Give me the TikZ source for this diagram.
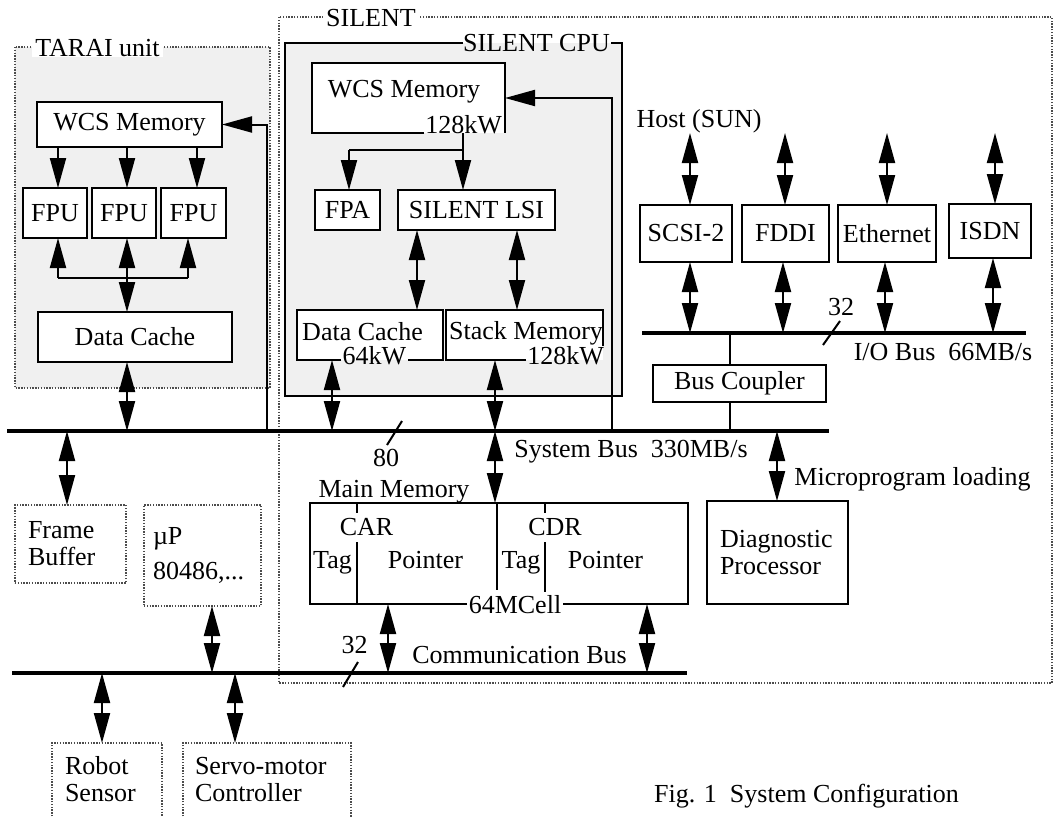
\documentclass[tikz,border=0pt]{standalone}
\usepackage{fontspec}
\setmainfont{Liberation Serif}
\usetikzlibrary{arrows.meta}
\newcommand\bigfont{\fontsize{26}{28}\selectfont}
\newcommand\twofont{\fontsize{26}{27}\selectfont}
\tikzset{
  box/.style={draw, line width=2.5pt, fill=white, inner sep=0pt, outer sep=0pt, font=\bigfont},
  area/.style={draw=none, fill=white, inner sep=0pt, outer sep=0pt},
  bord/.style={line width=2.5pt},
  dotb/.style={draw=black!70, line width=1.6pt, dash pattern=on 1.4pt off 1.4pt},
  dbox/.style={dotb, fill=white, inner sep=0pt, outer sep=0pt, font=\twofont, align=left},
  dtext/.style={area, font=\twofont, align=left},
  conn/.style={line width=2pt},
  arr/.style={conn, -{Triangle[length=30pt,width=16pt]}},
  darr/.style={conn, {Triangle[length=30pt,width=16pt]}-{Triangle[length=30pt,width=16pt]}},
  bus/.style={line width=4.5pt},
  lbl/.style={inner sep=0pt, outer sep=0pt, font=\bigfont},
}
\begin{document}
\begin{tikzpicture}[x=1pt,y=-1pt]
\useasboundingbox (0,0) rectangle (1054,816);
% ---------- regions
\path[fill=black!6] (15,47) rectangle (270,388);
\draw[dotb] (15,47) rectangle (270,388);
\node[lbl, fill=white, inner xsep=3pt] (tarai) at (97.5,48) {TARAI unit};
\draw[dotb] (279,17) rectangle (1052,683);
\node[lbl, fill=white, inner xsep=3pt] (silent) at (371,18) {SILENT};
\path[fill=black!6] (285,43) rectangle (622,396);
\draw[bord] (463,43) -- (285,43) -- (285,396) -- (622,396) -- (622,43) -- (611,43);
\node[lbl] (cpu) at (536.5,43) {SILENT CPU};

% ---------- TARAI unit
\node[box, minimum width=185pt, minimum height=45pt] (twcs) at (129.5,124.5) {WCS Memory};
\node[box, minimum width=64pt, minimum height=50pt] (fpu1) at (55,213) {FPU};
\node[box, minimum width=64pt, minimum height=50pt] (fpu2) at (124,213) {FPU};
\node[box, minimum width=65pt, minimum height=50pt] (fpu3) at (193.5,213) {FPU};
\node[box, minimum width=194pt, minimum height=50pt] (tdc) at (135,337) {Data Cache};
\draw[arr] (twcs.south -| 58,0) -- (fpu1.north -| 58,0);
\draw[arr] (twcs.south -| 127,0) -- (fpu2.north -| 127,0);
\draw[arr] (twcs.south -| 197,0) -- (fpu3.north -| 197,0);
\coordinate (tj1) at (58,278);
\coordinate (tj3) at (188,278);
\draw[conn] (tj1) -- (tj3);
\draw[arr] (tj1) -- (fpu1.south -| tj1);
\draw[arr] (tj3) -- (fpu3.south -| tj3);
\draw[darr] (fpu2.south -| 127,0) -- (tdc.north -| 127,0);

% ---------- system bus
\coordinate (sbl) at (7,431);
\coordinate (sbr) at (829,431);
\draw[bus] (sbl) -- (sbr);
\draw[darr] (tdc.south -| 127,0) -- (127,431);
\coordinate (tload) at (267,431);
\draw[arr] (tload) |- (twcs.east);
\node[lbl, anchor=base] (sysbus) at (631,457) {System Bus\ \ 330MB/s};
\draw[conn] (387,445) -- (402,421);
\node[lbl, anchor=base] (w80) at (386,466) {80};

% ---------- SILENT CPU
\node[area, minimum width=193pt, minimum height=70pt] (swcs) at (408.5,98) {};
\draw[bord] (424,133) -- (swcs.south west) -- (swcs.north west) -- (swcs.north east) -- (swcs.south east);
\node[lbl, anchor=base] (swcst) at (404,97) {WCS Memory};
\node[lbl, anchor=base east] (swcsk) at (502,133) {128kW};
\coordinate (sload) at (612,431);
\draw[arr] (sload) |- (swcs.east);
\node[box, minimum width=65pt, minimum height=40pt] (fpa) at (347.5,210) {FPA};
\node[box, minimum width=157pt, minimum height=40pt] (lsi) at (476.5,210) {SILENT LSI};
\coordinate (sbr1) at (349,150);
\coordinate (sbr2) at (463,150);
\draw[conn] (swcs.south -| sbr2) -- (sbr2) -- (sbr1);
\draw[arr] (sbr1) -- (fpa.north -| sbr1);
\draw[arr] (sbr2) -- (lsi.north -| sbr2);

\node[area, minimum width=146pt, minimum height=50pt] (sdc) at (370,335) {};
\draw[bord] (341,360) -- (sdc.south west) -- (sdc.north west) -- (sdc.north east) -- (sdc.south east) -- (408,360);
\node[lbl, anchor=base] (sdct) at (362.5,340) {Data Cache};
\node[lbl, anchor=base] (sdck) at (374.5,364) {64kW};

\node[area, minimum width=157pt, minimum height=50pt] (stk) at (524.5,335) {};
\draw[bord] (526,360) -- (stk.south west) -- (stk.north west) -- (stk.north east) -- (603,346);
\node[lbl, anchor=base] (stkt) at (526,339) {Stack Memory};
\node[lbl, anchor=base east] (stkk) at (604,364) {128kW};

\draw[darr] (lsi.south -| 417,0) -- (sdc.north -| 417,0);
\draw[darr] (lsi.south -| 517,0) -- (stk.north -| 517,0);
\draw[darr] (sdc.south -| 332,0) -- (332,431);
\draw[darr] (stk.south -| 495,0) -- (495,431);

% ---------- Host side
\node[lbl, anchor=base] (host) at (699,127) {Host (SUN)};
\node[box, minimum width=92pt, minimum height=57pt] (scsi) at (686,233.5) {SCSI-2};
\node[box, minimum width=87pt, minimum height=57pt] (fddi) at (785.5,233.5) {FDDI};
\node[box, minimum width=98pt, minimum height=57pt] (eth) at (887,233.5) {Ethernet};
\node[box, minimum width=82pt, minimum height=54pt] (isdn) at (990,231) {ISDN};
\coordinate (h1) at (690,133);
\coordinate (h2) at (785,133);
\coordinate (h3) at (887,133);
\coordinate (h4) at (995,133);
\draw[darr] (h1) -- (scsi.north -| h1);
\draw[darr] (h2) -- (fddi.north -| h2);
\draw[darr] (h3) -- (eth.north -| h3);
\draw[darr] (h4) -- (isdn.north -| h4);
\coordinate (ib1) at (690,333);
\coordinate (ib2) at (783,333);
\coordinate (ib3) at (885,333);
\coordinate (ib4) at (993,333);
\draw[darr] (scsi.south -| ib1) -- (ib1);
\draw[darr] (fddi.south -| ib2) -- (ib2);
\draw[darr] (eth.south -| ib3) -- (ib3);
\draw[darr] (isdn.south -| ib4) -- (ib4);
\draw[bus] (642,333) -- (1026,333);
\draw[conn] (823,345) -- (840,321);
\node[lbl, anchor=base] (w32a) at (841,315) {32};
\node[lbl, anchor=base] (iobus) at (943,360) {I/O Bus\ \ 66MB/s};
\node[box, minimum width=173pt, minimum height=37pt] (cpl) at (739.5,383.5) {Bus Coupler};
\coordinate (ct) at (730,333);
\coordinate (cb) at (730,431);
\draw[conn] (ct) -- (cpl.north -| ct);
\draw[conn] (cpl.south -| cb) -- (cb);

% ---------- Diagnostic
\node[box, minimum height=103pt, text width=115pt, inner xsep=13pt, align=left, font=\twofont] (diag) at (777.5,552.5) {Diagnostic\\Processor};
\coordinate (dg) at (777,431);
\draw[darr] (dg) -- (diag.north -| dg);
\node[lbl, anchor=base] (mpl) at (912.5,485) {Microprogram loading};

% ---------- Main memory
\node[lbl, anchor=base] (mmt) at (394,497) {Main Memory};
\node[area, minimum width=378pt, minimum height=101pt] (mm) at (499,553.5) {};
\draw[bord] (467,604) -- (mm.south west) -- (mm.north west) -- (mm.north east) -- (mm.south east) -- (563,604);
\draw[bord] (497,503) -- (497,590);
\draw[bord] (357,503) -- (357,513);
\draw[bord] (357,542) -- (357,604);
\draw[bord] (545,503) -- (545,513);
\draw[bord] (545,542) -- (545,592);
\node[lbl, anchor=base] (car) at (366.5,535) {CAR};
\node[lbl, anchor=base] (cdr) at (555,535) {CDR};
\node[lbl, anchor=base] (tag1) at (332.5,568) {Tag};
\node[lbl, anchor=base] (ptr1) at (425.5,568) {Pointer};
\node[lbl, anchor=base] (tag2) at (521,568) {Tag};
\node[lbl, anchor=base] (ptr2) at (605.5,568) {Pointer};
\node[lbl, anchor=base] (cells) at (515,613) {64MCell};
\draw[darr] (495,431) -- (mm.north -| 495,0);

% ---------- Communication bus
\coordinate (cbl) at (12,673);
\coordinate (cbr) at (687,673);
\draw[bus] (cbl) -- (cbr);
\draw[darr] (mm.south -| 388,0) -- (388,673);
\draw[darr] (mm.south -| 647,0) -- (647,673);
\draw[conn] (343,687) -- (358,662);
\node[lbl, anchor=base] (w32b) at (354.5,653) {32};
\node[lbl, anchor=base] (cbus) at (519.5,663) {Communication Bus};

% ---------- external units
\node[dbox, text width=85pt, inner xsep=13pt, minimum height=78pt] (fb) at (70.5,544) {Frame\\Buffer};
\draw[darr] (67,431) -- (fb.north -| 67,0);
\node[dbox, text width=99pt, inner xsep=9pt, minimum height=101pt] (up) at (202.5,555.5) {µP\\[8pt]80486,...};
\draw[darr] (up.south -| 212,0) -- (212,673);
\node[dtext, text width=84pt, inner xsep=13pt, minimum height=73pt] (rs) at (107,779.5) {Robot\\Sensor};
\draw[dotb] (52,822) -- (52,743) -- (162,743) -- (162,822);
\node[dtext, text width=144pt, inner xsep=12pt, minimum height=73pt] (servo) at (267,779.5) {Servo-motor\\Controller};
\draw[dotb] (183,822) -- (183,743) -- (351,743) -- (351,822);
\draw[darr] (102,673) -- (rs.north -| 102,0);
\draw[darr] (235,673) -- (servo.north -| 235,0);

% ---------- caption
\node[lbl, anchor=base] (caption) at (806.5,802) {Fig. 1\ \ System Configuration};
\end{tikzpicture}
\end{document}
